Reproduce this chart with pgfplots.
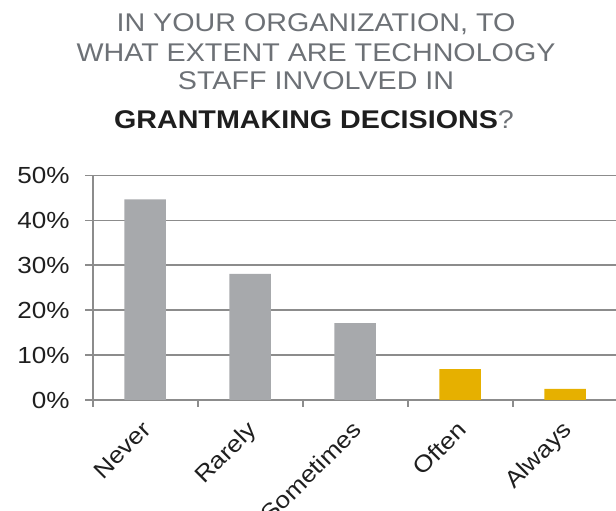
\documentclass[border=0pt]{standalone}
\usepackage{fontspec}
\setmainfont{Liberation Sans}[FakeStretch=1.12]
\usepackage{pgfplots}
\pgfplotsset{compat=1.18}
\definecolor{bargray}{HTML}{A7A9AC}
\definecolor{bargold}{HTML}{E6B000}
\definecolor{axgray}{HTML}{8C8C8C}
\definecolor{titlegray}{HTML}{6D7176}
\definecolor{titledark}{HTML}{1E1E1E}

\begin{document}
\begin{tikzpicture}[x=1pt,y=1pt]
\useasboundingbox (0,0) rectangle (616,511);
% title, four lines
\begin{scope}[every node/.style={anchor=base, text=titlegray, inner sep=0pt,
    font=\fontsize{25.6}{30}\selectfont}]
\node at (316,479.3) {IN YOUR ORGANIZATION, TO};
\node at (316,449.3) {WHAT EXTENT ARE TECHNOLOGY};
\node at (316,421) {STAFF INVOLVED IN};
\node at (314,382.7) {\textcolor{titledark}{\bfseries GRANTMAKING DECISIONS}?};
\end{scope}

\begin{axis}[
    at={(92.7pt,111pt)}, anchor=south west,
    scale only axis,
    width=525pt, height=224.5pt,
    xmin=-0.5, xmax=4.5,
    ymin=0, ymax=50,
    axis lines*=left,
    axis line style={axgray, line width=1.7pt},
    ymajorgrids,
    grid style={axgray, line width=1.7pt},
    ytick={0,10,20,30,40,50},
    yticklabels={0\%,10\%,20\%,30\%,40\%,50\%},
    xtick={0,1,2,3,4},
    xticklabels={Never,Rarely,Sometimes,Often,Always},
    minor xtick={-0.5,0.5,1.5,2.5,3.5},
    tick align=outside,
    major tick length=7.5pt,
    minor tick length=7pt,
    major x tick style={draw=none},
    every tick/.style={axgray, line width=1.7pt},
    minor x tick style={axgray, line width=1.7pt},
    major y tick style={axgray, line width=1.7pt},
    ticklabel style={text=black!88, font=\fontsize{23.3}{28}\selectfont},
    yticklabel style={xshift=-12pt},
    xticklabel style={rotate=45, anchor=north east, xshift=-8pt, yshift=-2pt},
    clip=false,
]
\addplot[ybar, bar shift=0pt, bar width=41.5pt, fill=bargray, draw=none]
    coordinates {(0,44.7) (1,28.1) (2,17.1)};
\addplot[ybar, bar shift=0pt, bar width=41.5pt, fill=bargold, draw=none]
    coordinates {(3,6.9) (4,2.5)};
\end{axis}
\end{tikzpicture}
\end{document}
